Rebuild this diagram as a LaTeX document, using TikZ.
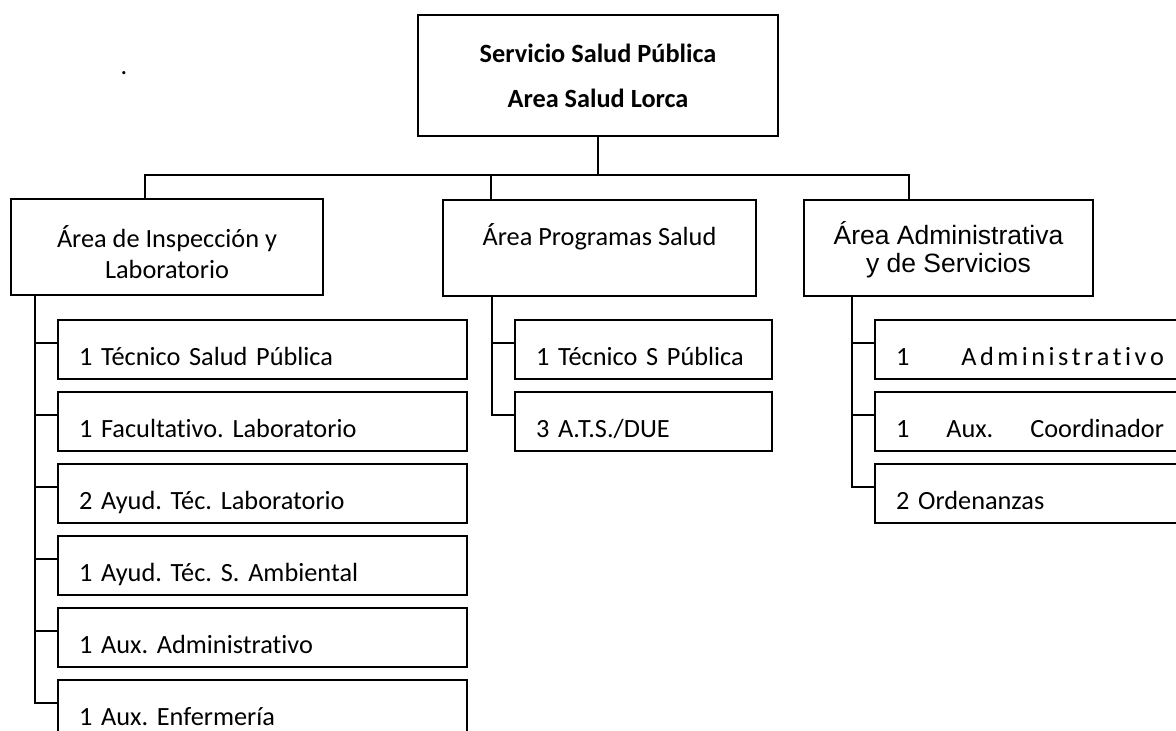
\documentclass[tikz,border=0pt]{standalone}
\usepackage{fontspec}
\setmainfont[Ligatures=NoCommon]{Carlito}
\newfontfamily\arialfont{Liberation Sans}
\usetikzlibrary{positioning}
\newcommand{\orgsize}{\fontsize{26.3pt}{32pt}\selectfont\frenchspacing}
\tikzset{
	orgline/.style={line width=2pt}
}
\tikzset{
	bossbox/.style={draw, orgline, outer sep=0pt, minimum width=360pt, minimum height=121pt, align=center, font=\orgsize\bfseries},
	areabox/.style={draw, orgline, outer sep=0pt, minimum height=96pt, align=center, font=\orgsize},
	kidbox/.style={draw, orgline, outer sep=0pt, inner xsep=21pt, inner ysep=0pt, minimum height=59pt, text width=#1, align=left, text height=31pt, text depth=0pt, font=\orgsize}
}

\begin{document}
\begin{tikzpicture}[x=1pt, y=-1pt]
      \useasboundingbox (0,0) rectangle (1176,731);
      \clip (0,0) rectangle (1176,731);

      \node[font=\orgsize, anchor=base, inner sep=0pt] (dot) at (124,74) {.};
      \node[bossbox] (boss) at (598,75.5) {Servicio Salud Pública\\[13pt]Area Salud Lorca};

      \node[areabox, minimum width=312pt] (insp) at (167,247) {\rule{0pt}{33pt}Área de Inspección y\\[-1pt]Laboratorio};
      \node[areabox, minimum width=313pt] (prog) at (599.5,248) {\rule{0pt}{27pt}Área Programas Salud\\\mbox{}};
      \node[areabox, minimum width=289pt, font=\arialfont\fontsize{26.5pt}{28pt}\selectfont] (admin) at (948.5,247.5) {\rule{0pt}{27pt}Área Administrativa\\y de Servicios};

      % left column
      \node[kidbox=367pt, anchor=west] (k1) at (58,349.5) {1 Técnico Salud Pública};
      \node[kidbox=367pt, below=13pt of k1] (k2) {1 Facultativo. Laboratorio};
      \node[kidbox=367pt, below=13pt of k2] (k3) {2 Ayud. Téc. Laboratorio};
      \node[kidbox=367pt, below=13pt of k3] (k4) {1 Ayud. Téc. S. Ambiental};
      \node[kidbox=367pt, below=13pt of k4] (k5) {1 Aux. Administrativo};
      \node[kidbox=367pt, below=13pt of k5] (k6) {1 Aux. Enfermería};

      % middle column
      \node[kidbox=215pt, anchor=west] (p1) at (515,349.5) {1 Técnico S Pública};
      \node[kidbox=215pt, below=13pt of p1] (p2) {3 A.T.S./DUE};

      % right column, runs off the page
      \node[kidbox=273pt, anchor=west] (a1) at (875,349.5)
        {\makebox[268pt][l]{1\hspace{52pt}A\hfill d\hfill m\hfill i\hfill n\hfill i\hfill s\hfill t\hfill r\hfill a\hfill t\hfill i\hfill v\hfill o}};
      \node[kidbox=273pt, below=13pt of a1] (a2) {\makebox[268pt][l]{1\hfill Aux.\hfill Coordinador}};
      \node[kidbox=273pt, below=13pt of a2] (a3) {2 Ordenanzas};

      \draw[orgline] (boss.south) -- ++(0,39) coordinate (bus);
      \draw[orgline] ([xshift=134pt]insp.north west) |- (bus) -| ([xshift=105pt]admin.north west);
      \draw[orgline] ([xshift=48pt]prog.north west) -- ++(0,-25);

      \draw[orgline] ([xshift=24pt]insp.south west) |- ([yshift=6.5pt]k6.west);
      \foreach \i in {1,...,5}
        \draw[orgline] ([yshift=6.5pt]k\i.west) -- ++(-23,0);

      \draw[orgline] ([xshift=49pt]prog.south west) |- ([yshift=6.5pt]p2.west);
      \draw[orgline] ([yshift=6.5pt]p1.west) -- ++(-23,0);

      \draw[orgline] ([xshift=48pt]admin.south west) |- ([yshift=6.5pt]a3.west);
      \foreach \i in {1,2}
        \draw[orgline] ([yshift=6.5pt]a\i.west) -- ++(-23,0);
    \end{tikzpicture}
\end{document}
